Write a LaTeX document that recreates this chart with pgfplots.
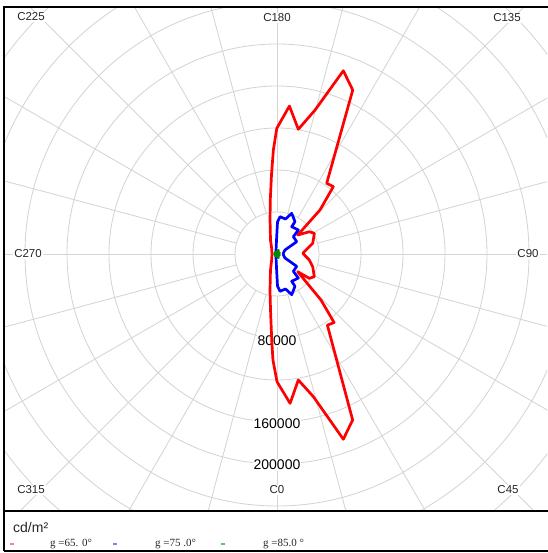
\documentclass[border=0pt]{standalone}
\usepackage{pgfplots}
\pgfplotsset{compat=1.18}
\usepackage{pgfplotstable}
\usepackage{fontspec}
\setmainfont{Liberation Sans}
\newfontfamily\seriffont{Liberation Serif}
\definecolor{gridgray}{RGB}{212,212,212}
\definecolor{redc}{RGB}{255,0,0}
\definecolor{bluec}{RGB}{0,0,255}
\definecolor{greenc}{RGB}{0,140,0}

% C angle (deg), luminance (cd/m^2)
\pgfplotstableread{
C L
0 121600
5 142800
9.6 121700
14.3 140200
19.7 187400
24.5 173700
35.3 83000
39.8 85000
43.7 60700
49.5 25900
53 38500
58.7 41600
70.4 36100
79.5 31300
91.6 24500
106.7 35500
119 40700
124.6 37300
132.5 26800
135.7 58600
140.1 83600
144.9 82300
155.2 172000
160.1 185600
165.2 141800
170.3 120500
175.2 141400
180.1 119700
182 99100
184 75400
187.1 51800
191.6 33000
204.9 14700
225 7100
270 4800
315 7100
337.9 16500
349 35000
353.4 53700
356.5 82100
357.8 101000
360 121600
}\redtable

\pgfplotstableread{
C L
90 5700
116.6 8500
122 22100
136.7 22700
138.4 30600
151.7 29500
150.9 35200
160.1 41200
166.3 34300
175.4 35600
179.1 30500
182 13300
194 3800
270 1400
346 3800
358 13300
0.9 30500
4.6 35600
13.7 34300
19.9 41200
29.1 35200
28.3 29500
41.6 30600
43.3 22700
58 22100
63.4 8500
90 5700
}\bluetable

\pgfplotstableread{
C L
0 2000
20 3800
45 1500
70 2500
90 1200
110 2500
135 1500
160 3800
180 2000
225 2000
270 2500
315 2000
360 2000
}\greentable

\begin{document}
\begin{tikzpicture}[x=1pt,y=1pt]
\useasboundingbox (-277,-299) rectangle (270,254);
% polar grid
\begin{scope}
\clip (-273,-257) rectangle (270,247);
\foreach \k in {1,...,9} \draw[gridgray, line width=0.85pt] (0,0) circle [radius=\k*42pt];
\foreach \a in {0,15,...,345} \draw[gridgray, line width=0.85pt] (\a:42pt) -- (\a:420pt);
\end{scope}
% angle labels
\begin{scope}[every node/.style={font=\fontsize{11.5}{13}\selectfont, fill=white, inner sep=1.2pt, text=black!85}]
\node at (0,236) {C180};
\node at (0,-236) {C0};
\node at (251,0) {C90};
\node at (-249,0) {C270};
\node at (-246,237) {C225};
\node at (230,236) {C135};
\node at (-246,-236) {C315};
\node at (231,-236) {C45};
\end{scope}
% radius labels
\begin{scope}[every node/.style={font=\fontsize{14}{15}\selectfont, fill=white, inner sep=0.6pt}]
\node at (0,-87) {80000};
\node at (0,-170) {160000};
\node at (0,-211) {200000};
\end{scope}

\begin{axis}[at={(-273pt,-257pt)}, anchor=south west, scale only axis,
  width=543pt, height=504pt,
  xmin=-260000, xmax=257143, ymin=-244762, ymax=235238,
  axis lines=none, clip=false]
\addplot[redc, line width=2.7pt, line join=round, data cs=polar]
  table[x expr=\thisrow{C}-90, y=L] {\redtable};
\addplot[bluec, line width=2.7pt, line join=round, data cs=polar]
  table[x expr=\thisrow{C}-90, y=L] {\bluetable};
\addplot[greenc, line width=2.7pt, line join=round, data cs=polar]
  table[x expr=\thisrow{C}-90, y=L] {\greentable};
\end{axis}

% frame
\draw[line width=1.5pt] (-273,-297) -- (-273,247) -- (272,247);
\draw[line width=1.2pt] (-273,-257) -- (272,-257);
\draw[line width=1.5pt] (-273,-297) -- (272,-297);

% legend
\node[anchor=west, inner sep=0pt, font=\fontsize{14}{15}\selectfont, text=black!85] at (-264,-273) {cd/m²};
\fill[red!50] (-267,-290.6) rectangle (-263,-289.4);
\node[anchor=west, inner sep=0pt, font=\seriffont\fontsize{11}{12}\selectfont, text=black!85] at (-227,-290) {g =65. 0°};
\fill[blue!50] (-164,-290.6) rectangle (-160,-289.4);
\node[anchor=west, inner sep=0pt, font=\seriffont\fontsize{11}{12}\selectfont, text=black!85] at (-122,-290) {g =75 .0°};
\fill[green!60!black!60] (-56,-290.6) rectangle (-52,-289.4);
\node[anchor=west, inner sep=0pt, font=\seriffont\fontsize{11}{12}\selectfont, text=black!85] at (-14,-290) {g =85.0 °};
\end{tikzpicture}
\end{document}
